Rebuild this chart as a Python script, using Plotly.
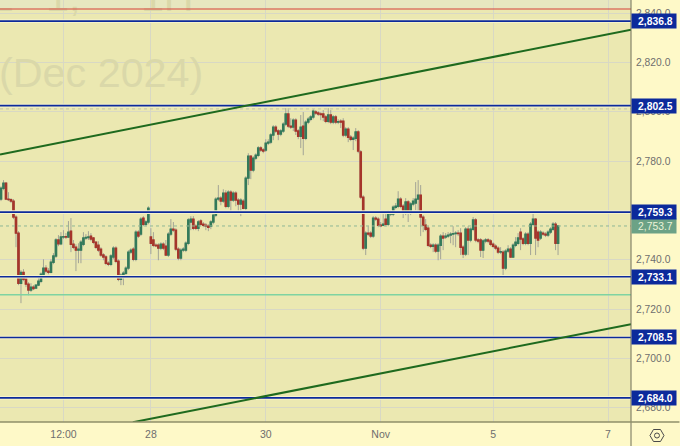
import plotly.graph_objects as go

opens = [2764.6,2769.0,2771.1,2764.6,2764.4,2763.8,2757.3,2750.8,2730.5,2734.9,2732.1,2730.1,2727.7,2728.9,2728.5,2729.7,2731.3,2734.1,2736.6,2735.4,
2734.9,2739.0,2741.5,2748.0,2746.5,2749.2,2749.4,2749.2,2751.6,2746.3,2745.1,2743.9,2743.9,2746.3,2748.8,2749.0,2749.6,2748.8,2747.1,2745.9,
2744.3,2741.9,2741.1,2738.6,2738.2,2741.1,2744.7,2739.4,2732.1,2733.7,2734.5,2736.6,2743.1,2744.3,2740.2,2751.2,2750.4,2756.9,2754.4,2755.3,
2749.2,2748.0,2745.9,2745.9,2744.7,2746.3,2745.5,2741.9,2750.4,2752.4,2752.0,2744.3,2740.7,2743.9,2743.9,2746.7,2755.3,2756.5,2753.6,2752.8,
2755.7,2754.4,2754.0,2753.6,2753.6,2755.3,2758.1,2764.6,2765.0,2763.8,2767.0,2761.7,2767.4,2764.2,2767.0,2764.2,2762.6,2763.8,2760.9,2773.1,
2782.0,2776.4,2781.2,2782.4,2785.3,2784.5,2784.5,2787.3,2787.7,2790.6,2793.8,2792.2,2791.0,2792.2,2795.0,2799.1,2794.2,2793.8,2796.6,2792.2,
2790.1,2794.2,2789.3,2795.8,2797.0,2797.9,2799.9,2799.5,2799.1,2799.1,2797.9,2796.2,2798.7,2795.8,2797.9,2795.8,2796.2,2796.2,2790.6,2793.0,
2789.7,2788.9,2789.3,2791.8,2783.7,2765.4,2744.7,2750.8,2750.8,2749.6,2756.9,2756.5,2754.0,2754.0,2756.5,2754.4,2758.5,2758.5,2761.3,2761.7,
2764.6,2761.7,2758.9,2763.4,2758.9,2762.6,2763.0,2764.6,2766.2,2757.3,2754.0,2752.8,2745.9,2745.5,2745.9,2743.5,2745.9,2749.6,2749.2,2749.6,
2750.0,2750.4,2750.6,2750.8,2750.8,2745.1,2742.3,2752.4,2748.0,2752.4,2756.1,2748.0,2748.0,2743.9,2747.6,2748.0,2747.6,2746.3,2745.5,2744.7,
2743.1,2743.1,2736.6,2743.5,2744.3,2741.1,2745.9,2746.7,2751.2,2748.4,2746.7,2750.4,2746.7,2754.4,2756.5,2751.2,2748.8,2750.8,2750.4,2750.0,
2751.2,2752.4,2754.4,2746.7]

closes = [2769.0,2771.1,2764.6,2764.4,2763.8,2757.3,2750.8,2730.5,2734.9,2732.1,2730.1,2727.7,2728.9,2728.3,2729.7,2731.3,2734.1,2736.6,2735.4,2734.9,
2739.0,2741.5,2748.0,2746.5,2749.2,2749.4,2749.2,2751.2,2746.3,2745.1,2743.9,2744.3,2747.1,2748.8,2749.0,2749.2,2748.4,2747.1,2745.1,2743.9,
2741.9,2741.1,2738.6,2738.2,2741.5,2744.7,2739.4,2732.1,2733.7,2734.5,2736.6,2743.1,2743.9,2740.2,2751.2,2749.6,2756.5,2754.4,2755.3,2760.9,
2746.7,2745.9,2745.7,2744.7,2746.3,2744.7,2741.9,2750.4,2752.4,2752.0,2744.3,2740.7,2743.9,2744.3,2746.7,2756.1,2756.5,2752.8,2752.8,2755.3,
2754.4,2754.0,2753.6,2753.2,2755.3,2758.1,2764.6,2765.0,2763.8,2767.0,2761.7,2767.4,2764.2,2767.0,2764.2,2762.6,2764.2,2760.9,2773.1,2782.0,
2776.4,2781.2,2782.4,2785.3,2784.5,2784.1,2787.3,2787.7,2790.6,2793.8,2792.2,2791.0,2792.2,2795.0,2799.1,2794.2,2793.8,2796.6,2792.2,2790.1,
2793.8,2789.3,2795.8,2797.0,2797.9,2800.3,2799.5,2799.1,2798.9,2797.9,2796.2,2798.7,2795.8,2797.9,2795.8,2796.0,2795.8,2790.6,2793.0,2789.7,
2788.9,2789.3,2791.8,2784.1,2765.4,2744.7,2750.8,2750.4,2749.6,2756.9,2756.5,2754.0,2753.8,2754.4,2754.4,2759.3,2759.3,2761.3,2761.7,2764.6,
2761.7,2758.9,2763.4,2758.9,2762.6,2763.8,2764.6,2766.2,2757.3,2754.0,2752.4,2745.9,2745.5,2745.9,2743.5,2745.9,2749.6,2748.8,2749.6,2750.0,
2750.4,2750.6,2750.8,2750.6,2745.1,2742.3,2752.4,2748.0,2752.4,2756.1,2748.0,2747.6,2743.9,2747.6,2748.0,2747.6,2746.3,2745.5,2744.7,2743.1,
2743.3,2736.6,2743.5,2744.3,2741.1,2745.9,2747.1,2748.8,2748.4,2746.7,2750.4,2746.7,2754.4,2756.5,2748.8,2748.0,2751.2,2750.4,2750.0,2751.2,
2752.4,2754.4,2746.7,2753.7]

highs = [2769.8,2772.3,2771.5,2767.4,2765.0,2764.6,2758.1,2751.6,2735.8,2736.2,2733.3,2730.9,2730.5,2729.7,2730.1,2732.9,2734.9,2740.2,2737.8,2736.6,
2740.2,2742.7,2748.8,2750.0,2751.2,2752.0,2750.8,2755.7,2756.9,2748.0,2746.3,2746.7,2748.0,2751.2,2750.4,2751.6,2750.8,2749.2,2747.5,2747.5,
2745.1,2742.7,2741.9,2739.4,2742.3,2745.5,2745.5,2740.2,2734.5,2735.4,2737.4,2743.9,2744.7,2745.1,2752.0,2752.0,2757.3,2757.7,2756.1,2761.7,
2752.8,2751.2,2746.7,2746.7,2747.1,2747.1,2748.0,2751.2,2756.5,2755.3,2752.8,2745.1,2744.7,2745.1,2747.5,2756.9,2757.7,2757.7,2754.4,2756.1,
2756.5,2755.3,2754.9,2754.4,2756.1,2758.9,2765.4,2770.3,2765.8,2768.6,2768.2,2768.2,2768.2,2767.8,2767.8,2765.0,2765.0,2764.6,2773.9,2783.2,
2782.4,2782.0,2783.2,2786.1,2786.1,2785.3,2788.9,2788.9,2791.4,2794.6,2794.6,2793.0,2793.0,2795.8,2801.5,2801.5,2797.4,2797.4,2797.4,2793.0,
2798.7,2799.9,2796.6,2797.9,2798.7,2801.1,2800.7,2800.3,2799.9,2800.7,2798.7,2801.5,2800.7,2798.7,2798.7,2797.0,2797.0,2797.4,2793.8,2793.8,
2790.6,2790.1,2793.4,2792.6,2784.5,2766.2,2751.6,2753.6,2751.6,2757.7,2757.7,2757.3,2755.3,2758.5,2758.5,2760.1,2760.1,2762.1,2763.0,2767.8,
2765.4,2762.6,2765.0,2764.2,2763.4,2765.0,2771.5,2772.3,2770.3,2758.1,2756.5,2753.6,2746.7,2746.7,2746.7,2746.7,2750.4,2751.2,2750.8,2751.2,
2751.2,2753.6,2751.6,2752.0,2752.8,2745.9,2753.2,2753.6,2753.2,2757.3,2756.9,2748.8,2748.8,2748.4,2748.8,2748.8,2748.4,2747.1,2746.3,2745.5,
2745.1,2743.9,2744.3,2745.9,2745.1,2746.7,2749.2,2750.8,2752.8,2749.2,2751.2,2751.2,2755.3,2759.3,2756.9,2752.0,2752.0,2751.6,2751.2,2752.0,
2753.2,2755.3,2755.3,2754.0]

lows = [2763.8,2768.2,2764.2,2763.8,2763.0,2756.5,2745.1,2729.7,2722.4,2731.3,2728.9,2725.6,2726.9,2727.7,2728.1,2729.3,2730.5,2733.3,2734.5,2734.1,
2734.5,2738.2,2740.7,2745.5,2745.9,2748.4,2748.4,2748.8,2743.1,2744.3,2735.4,2738.6,2738.6,2745.5,2748.0,2748.0,2747.5,2746.3,2744.3,2743.1,
2741.1,2739.8,2737.8,2737.4,2737.4,2740.2,2738.6,2731.3,2729.7,2729.7,2733.7,2735.8,2742.3,2739.4,2739.4,2748.8,2749.6,2753.6,2753.6,2754.4,
2742.3,2745.1,2745.1,2739.8,2743.9,2743.9,2741.5,2741.1,2749.6,2751.2,2743.5,2739.8,2739.8,2743.1,2743.1,2745.9,2752.0,2752.0,2752.0,2751.6,
2753.6,2753.2,2752.0,2751.6,2752.4,2754.4,2757.3,2763.8,2762.1,2763.0,2760.9,2760.9,2759.3,2763.4,2761.7,2759.3,2757.7,2760.5,2760.1,2770.3,
2772.7,2775.5,2780.4,2781.6,2783.7,2783.2,2783.7,2786.5,2786.9,2788.5,2791.4,2788.5,2790.1,2791.4,2794.2,2793.4,2793.0,2792.2,2790.6,2788.9,
2785.3,2782.4,2788.5,2795.0,2796.2,2797.0,2798.7,2798.3,2796.6,2796.2,2795.4,2795.4,2795.0,2795.0,2795.0,2795.0,2793.4,2789.7,2789.7,2787.7,
2788.1,2784.5,2788.1,2783.2,2764.6,2743.9,2741.9,2749.6,2748.8,2748.8,2755.7,2753.2,2753.2,2753.6,2753.6,2753.6,2757.7,2757.7,2760.5,2760.9,
2760.9,2756.9,2758.1,2755.3,2758.1,2761.7,2760.1,2759.3,2749.6,2751.2,2751.6,2745.1,2744.7,2743.1,2742.7,2739.8,2740.2,2743.9,2748.4,2748.8,
2746.7,2745.9,2745.1,2749.6,2741.9,2740.7,2741.5,2741.9,2747.1,2751.6,2747.1,2746.7,2741.1,2740.7,2746.7,2746.7,2745.5,2744.7,2743.9,2742.3,
2742.3,2733.7,2735.8,2742.7,2740.7,2740.7,2745.1,2745.9,2743.9,2745.9,2745.9,2745.9,2741.9,2753.6,2741.9,2745.1,2748.0,2749.6,2749.2,2749.2,
2750.4,2751.6,2743.9,2741.9]

assert len(opens) == len(closes) == len(highs) == len(lows), (len(opens), len(closes), len(highs), len(lows))

blue_levels = [2836.8, 2802.5, 2759.3, 2733.1, 2708.5, 2684.0]
blue_labels = ["2,836.8", "2,802.5", "2,759.3", "2,733.1", "2,708.5", "2,684.0"]
last_price = 2753.7
last_label = "2,753.7"
red_level = 2841.7
teal_level = 2725.8
dotted_level = 2801.2
trend_upper_x = [-0.4, 252.2]
trend_upper_y = [2782.7, 2833.3]
trend_lower_x = [52.8, 252.2]
trend_lower_y = [2674.1, 2713.9]
price_ticks = [2840, 2820, 2800, 2780, 2760, 2740, 2720, 2700, 2680]
price_tick_text = ["2,840.0", "2,820.0", "2,800.0", "2,780.0", "2,760.0", "2,740.0", "2,720.0", "2,700.0", "2,680.0"]
time_ticks = [25, 60, 106, 152, 197, 243]
time_tick_text = ["12:00", "28", "30", "Nov", "5", "7"]
watermark_line = "(Dec 2024)"
watermark_top = [("E", -6), ("1,", 18), ("1H", 56)]

x_min, x_max = -0.4, 252.2
y_min, y_max = 2674.2, 2845.35

PLOT_W, PLOT_H, M_R, M_B = 631.5, 422, 48.5, 24
BLUE = "#0C2A9B"
GREEN = "#3F8C68"
RED = "#C7352B"
WM = "#DAD8A9"
HALO = "#F6F3CB"
idx = list(range(len(opens)))

fig = go.Figure()

fig.add_trace(go.Scatter(x=[-0.8], y=[2814.2], mode="text", text=[watermark_line], textposition="middle right",
                         textfont=dict(family="Liberation Sans", size=41.3, color=WM), hoverinfo="skip", showlegend=False))
for txt, xv in watermark_top:
    fig.add_trace(go.Scatter(x=[xv], y=[2845.2], mode="text", text=[txt], textposition="middle right",
                             textfont=dict(family="Liberation Sans", size=41.3, color=WM), hoverinfo="skip", showlegend=False))

def flat_line(level, color, width, dash="solid"):
    fig.add_trace(go.Scatter(x=[x_min, x_max], y=[level, level], mode="lines",
                             line=dict(color=color, width=width, dash=dash), hoverinfo="skip", showlegend=False))

for lv in blue_levels:
    flat_line(lv, HALO, 3.6)
flat_line(dotted_level, "#C9C9AC", 1.2, "dot")
flat_line(last_price, "#8FB795", 1, "dot")

fig.add_trace(go.Candlestick(x=idx, open=opens, high=highs, low=lows, close=closes,
                             increasing=dict(line=dict(color="#A3A496", width=1), fillcolor="#A3A496"),
                             decreasing=dict(line=dict(color="#A3A496", width=1), fillcolor="#A3A496"),
                             showlegend=False, hoverinfo="skip"))
body_hi = [max(o, c) for o, c in zip(opens, closes)]
body_lo = [min(o, c) for o, c in zip(opens, closes)]
fig.add_trace(go.Candlestick(x=idx, open=opens, high=body_hi, low=body_lo, close=closes,
                             increasing=dict(line=dict(color="#337A5A", width=1.4), fillcolor=GREEN),
                             decreasing=dict(line=dict(color="#A5352A", width=1.4), fillcolor=RED),
                             showlegend=False, hoverinfo="skip"))

flat_line(red_level, "#D6403A", 1.2)
flat_line(teal_level, "#7FD3A2", 1.4)
for lv in blue_levels:
    flat_line(lv, BLUE, 1.6)
fig.add_trace(go.Scatter(x=trend_upper_x, y=trend_upper_y, mode="lines", line=dict(color="#1E6A1E", width=2),
                         hoverinfo="skip", showlegend=False))
fig.add_trace(go.Scatter(x=trend_lower_x, y=trend_lower_y, mode="lines", line=dict(color="#1E6A1E", width=2),
                         hoverinfo="skip", showlegend=False))

shapes = [
    dict(type="rect", xref="x", yref="y", x0=x_min, x1=x_max, y0=red_level, y1=y_max, fillcolor="#E7E7BF", line_width=0, layer="below"),
    dict(type="line", xref="paper", yref="paper", x0=1, x1=1, y0=-M_B / PLOT_H, y1=1, line=dict(color="#6E6E58", width=1)),
    dict(type="line", xref="paper", yref="paper", x0=0, x1=680 / PLOT_W, y0=0, y1=0, line=dict(color="#8F8F6A", width=1.5)),
    dict(type="path", xsizemode="pixel", ysizemode="pixel", xref="paper", yref="paper",
         xanchor=657.5 / PLOT_W, yanchor=(PLOT_H - 435.5) / PLOT_H,
         path="M-7,0 L-3.5,-6 L3.5,-6 L7,0 L3.5,6 L-3.5,6 Z", line=dict(color="#4A4A4A", width=1)),
    dict(type="circle", xsizemode="pixel", ysizemode="pixel", xref="paper", yref="paper",
         xanchor=657.5 / PLOT_W, yanchor=(PLOT_H - 435.5) / PLOT_H, x0=-2.5, x1=2.5, y0=-2.5, y1=2.5,
         line=dict(color="#4A4A4A", width=1)),
]

annotations = []
def price_tag(level, text, color, txtcolor):
    annotations.append(dict(xref="paper", yref="y", x=1, y=level, xanchor="left", yanchor="middle", text=text,
                            showarrow=False, bgcolor=color, width=44, height=14, borderpad=0, align="center",
                            font=dict(family="Liberation Sans", size=10.3, color=txtcolor)))
price_tag(last_price, "&nbsp;" + last_label, "#6CA286", "#EAF3D8")
for lv, lb in zip(blue_levels, blue_labels):
    price_tag(lv, "&nbsp;<b>%s</b>" % lb, BLUE, "#FFFFFF")

fig.update_layout(
    width=680, height=446, autosize=False,
    margin=dict(l=0, r=M_R, t=0, b=M_B, pad=0),
    paper_bgcolor="#FEF9C8", plot_bgcolor="#EBE8B1",
    showlegend=False, shapes=shapes, annotations=annotations,
    xaxis=dict(range=[x_min, x_max], tickmode="array", tickvals=time_ticks, ticktext=time_tick_text,
               showgrid=True, gridcolor="#D8D8C4", gridwidth=1, zeroline=False, showline=False, ticks="",
               ticklabelstandoff=4,
               rangeslider=dict(visible=False), tickfont=dict(family="Liberation Sans", size=10.5, color="#6E6E6E")),
    yaxis=dict(range=[y_min, y_max], side="right", tickmode="array", tickvals=price_ticks, ticktext=price_tick_text,
               showgrid=True, gridcolor="#D8D8C4", gridwidth=1, zeroline=False, showline=False, ticks="",
               ticklabelstandoff=4,
               tickfont=dict(family="Liberation Sans", size=10.3, color="#6E6E6E")),
)

fig.write_html("out.html", config=dict(displayModeBar=False),
               post_script="document.body.style.margin='0';document.body.style.overflow='hidden';")
